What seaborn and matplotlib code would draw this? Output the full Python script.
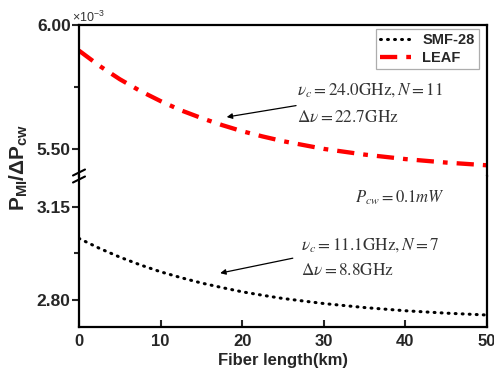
import numpy as np
import pandas as pd
import matplotlib
matplotlib.use("Agg")
import matplotlib.pyplot as plt
import seaborn as sns
from matplotlib.lines import Line2D

# ---- data (values in units of 1e-3) ----
length_km = [0, 2.5, 5, 7.5, 10, 12.5, 15, 17.5, 20, 22.5, 25, 30, 35, 40, 45, 50]
leaf = [5.897, 5.836, 5.782, 5.735, 5.694, 5.657, 5.626, 5.598, 5.573, 5.552,
        5.533, 5.502, 5.479, 5.461, 5.447, 5.436]
smf28 = [3.031, 2.994, 2.961, 2.932, 2.906, 2.884, 2.864, 2.847, 2.831, 2.818,
         2.806, 2.787, 2.772, 2.760, 2.751, 2.744]
x_ticks = [0, 10, 20, 30, 40, 50]
top_ticks = [5.50, 6.00]
bot_ticks = [2.80, 3.15]

sns.set_style("ticks")
plt.rcParams['font.family'] = ['Liberation Sans', 'DejaVu Sans']
plt.rcParams['mathtext.fontset'] = 'custom'
plt.rcParams['mathtext.rm'] = 'Liberation Sans'
plt.rcParams['mathtext.it'] = 'Liberation Sans:italic'
plt.rcParams['mathtext.bf'] = 'Liberation Sans:bold'

df = pd.DataFrame({"km": length_km, "SMF-28": smf28, "LEAF": leaf})

W, H = 494, 372
fig = plt.figure(figsize=(W / 100, H / 100), dpi=100)
L, R = 79 / W, 487 / W
T, M, B = 1 - 25 / H, 1 - 176 / H, 1 - 327.3 / H
ax_t = fig.add_axes([L, M, R - L, T - M])
ax_b = fig.add_axes([L, B, R - L, M - B])

lw_sp = 1.6
for ax in (ax_t, ax_b):
    for s in ax.spines.values():
        s.set_linewidth(lw_sp)
        s.set_color('black')
    ax.set_xlim(0, 50)
    ax.set_facecolor('white')
ax_t.spines['bottom'].set_visible(False)
ax_b.spines['top'].set_visible(False)

red_style = dict(color='#ff0000', lw=3.1, dashes=(4.0, 2.1, 1.1, 2.1), dash_capstyle='butt')
blk_style = dict(color='black', lw=2.2, dashes=(0.3, 2.0), dash_capstyle='round')

sns.lineplot(data=df, x="km", y="LEAF", ax=ax_t, legend=False, **red_style)
sns.lineplot(data=df, x="km", y="SMF-28", ax=ax_b, legend=False, **blk_style)

ax_t.set_ylim(5.393, 6.00)
ax_b.set_ylim(2.698, 3.265)

ax_t.set_yticks(top_ticks)
ax_t.set_yticks([5.75], minor=True)
ax_b.set_yticks(bot_ticks)
ax_b.set_yticks([2.975], minor=True)
ax_t.set_yticklabels([f"{v:.2f}" for v in top_ticks])
ax_b.set_yticklabels([f"{v:.2f}" for v in bot_ticks])
ax_t.set_xticks([])
ax_b.set_xticks(x_ticks)
ax_b.set_xticklabels([str(v) for v in x_ticks])

for ax in (ax_t, ax_b):
    ax.tick_params(axis='y', which='major', direction='out', length=5, width=1.5,
                   pad=1, labelsize=12.5)
    ax.tick_params(axis='y', which='minor', direction='out', length=3.5, width=1.5)
    for lab in ax.get_yticklabels():
        lab.set_fontweight('bold')
    ax.set_xlabel('')
    ax.set_ylabel('')
ax_b.tick_params(axis='x', which='major', direction='in', length=5, width=1.5,
                 pad=5, labelsize=12)
for lab in ax_b.get_xticklabels():
    lab.set_fontweight('bold')
ax_t.tick_params(axis='x', which='both', length=0)

# break marks on left spine
for dy in (-3.5, 3.5):
    yc = 1 - (176 + dy) / H
    fig.add_artist(plt.Line2D([L - 6 / W, L + 6 / W], [yc - 3 / H, yc + 3 / H],
                              transform=fig.transFigure, color='black', lw=1.5))

# axis labels
fig.text(283 / W, 1 - 360 / H, 'Fiber length(km)', ha='center', va='center',
         fontsize=12, fontweight='bold')
fig.text(19 / W, 1 - 167 / H, r'$\mathbf{P_{MI}/\Delta P_{cw}}$', rotation=90,
         ha='center', va='center', fontsize=15)
fig.text(72 / W, 1 - 22 / H, r'$\times\mathregular{10^{-3}}$', ha='left', va='baseline',
         fontsize=9, color='#333333')

# legend
handles = [Line2D([], [], **blk_style), Line2D([], [], **red_style)]
leg = fig.legend(handles, ['SMF-28', 'LEAF'], loc='upper right',
                 bbox_to_anchor=(479 / W, 1 - 29 / H), frameon=True, fancybox=False,
                 handlelength=2.2, handletextpad=0.7, borderpad=0.3, labelspacing=0.25,
                 borderaxespad=0, prop={'weight': 'bold', 'size': 10.5})
leg.get_frame().set_edgecolor('#999999')
leg.get_frame().set_linewidth(0.9)

# annotations
tkw = dict(fontsize=12.4, math_fontfamily='stix', color='#333333', ha='left', va='center')
ax_t.text(26.7, 5.739, r'$\nu_c = \mathrm{24.0GHz}, N = 11$', **tkw)
ax_t.text(26.7, 5.630, r'$\Delta\nu = \mathrm{22.7GHz}$', **tkw)
ax_t.annotate('', xy=(18.1, 5.630), xytext=(26.6, 5.676),
              arrowprops=dict(arrowstyle='-|>', color='black', lw=0.9,
                              mutation_scale=8, shrinkA=0, shrinkB=0))
ax_b.text(27.2, 3.007, r'$\nu_c = \mathrm{11.1GHz}, N = 7$', **tkw)
ax_b.text(27.2, 2.913, r'$\Delta\nu = \mathrm{8.8GHz}$', **tkw)
ax_b.annotate('', xy=(17.3, 2.901), xytext=(26.2, 2.957),
              arrowprops=dict(arrowstyle='-|>', color='black', lw=0.9,
                              mutation_scale=8, shrinkA=0, shrinkB=0))
ax_b.text(33.8, 3.183, r'$P_{cw}\mathrm{=0.1}mW$', **{**tkw, 'fontsize': 12})

fig.savefig('out.png', dpi=100, facecolor='white')
